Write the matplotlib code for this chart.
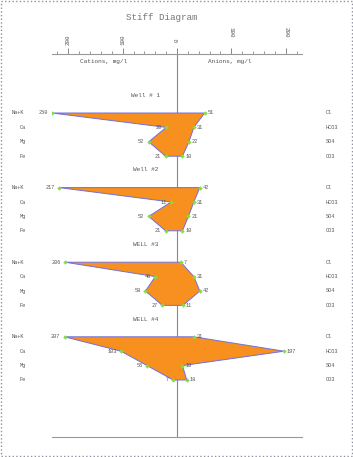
import numpy as np
import matplotlib
matplotlib.use("Agg")
import matplotlib.pyplot as plt
from matplotlib.patches import Rectangle

# ---------------- data ----------------
wells = ["Well # 1", "Well #2", "WELL #3", "WELL #4"]
cation_names = ["Na+K", "Ca", "Mg", "Fe"]
anion_names = ["Cl", "HCO3", "SO4", "CO3"]
cations = [
    [250, 20, 52, 21],
    [217, 11, 52, 21],
    [206, 40, 58, 27],
    [207, 103, 55, 7],
]
anions = [
    [51, 31, 22, 10],
    [42, 31, 21, 10],
    [7, 31, 42, 11],
    [31, 197, 10, 18],
]
left_ticks = [200, 100, 0]
right_ticks = [100, 200]

# ---------------- layout ----------------
W, H = 353, 457
dpi = 100
fig = plt.figure(figsize=(W / dpi, H / dpi), dpi=dpi)
FONT = "Liberation Mono"
TXT = "#555555"
SMALL = 3.8

x0, x1 = 52, 302        # pixel extent of scale
ytop, ybot = 53.5, 436.5
xlim = 230
ax = fig.add_axes([x0 / W, 1 - ybot / H, (x1 - x0) / W, (ybot - ytop) / H])
ax.set_xlim(-xlim, xlim)
ax.set_ylim(ybot, ytop)
for s in ["left", "right"]:
    ax.spines[s].set_visible(False)
for s in ["top", "bottom"]:
    ax.spines[s].set_color("#999999")
    ax.spines[s].set_linewidth(0.8)
ax.tick_params(axis="y", left=False, labelleft=False)
ax.tick_params(axis="x", bottom=False, labelbottom=False, top=True, labeltop=False,
               direction="out", color="#888888", which="both")
ax.set_xticks([-200, -100, 0, 100, 200])
ax.set_xticks(np.arange(-220, 221, 20), minor=True)
ax.tick_params(axis="x", which="major", length=4, width=0.7)
ax.tick_params(axis="x", which="minor", length=2, width=0.6)

# center line
ax.axvline(0, color="#888888", lw=0.8)

# tick labels
for v in left_ticks:
    ax.text(-v, 40, str(v), rotation=90, ha="center", va="center",
            fontsize=4.2, family=FONT, color=TXT, clip_on=False)
for v in right_ticks:
    ax.text(v, 32, str(v), rotation=270, ha="center", va="center",
            fontsize=4.2, family=FONT, color=TXT, clip_on=False)

ax.text(-135, 61.5, "Cations, mg/l", ha="center", va="center", fontsize=4.4,
        family=FONT, color=TXT, clip_on=False)
ax.text(97, 61.5, "Anions, mg/l", ha="center", va="center", fontsize=4.4,
        family=FONT, color=TXT, clip_on=False)

fig.text(162 / W, 1 - 17 / H, "Stiff Diagram", ha="center", va="center",
         fontsize=6.7, family=FONT, color="#777777")

px = (x1 - x0) / (2 * xlim)  # pixels per unit
lx_left = (12 - 177) / px
lx_left2 = (20 - 177) / px
lx_right = (326 - 177) / px

well_title_y0 = 95.3
row_y0 = 113
well_step = 74.6
row_step = 14.4

for w, name in enumerate(wells):
    ty = well_title_y0 + w * well_step
    ax.text(-58, ty, name, ha="center", va="center", fontsize=4.4,
            family=FONT, color=TXT)
    ys = [row_y0 + w * well_step + r * row_step for r in range(4)]
    cx = [-min(v, xlim) for v in cations[w]]
    axv = [min(v, xlim) for v in anions[w]]
    poly_x = cx + axv[::-1]
    poly_y = ys + ys[::-1]
    ax.fill(poly_x, poly_y, facecolor="#F7901E", edgecolor="#7070E0",
            lw=0.7, zorder=3)
    ax.plot(cx, ys, ls="none", marker="D", ms=1.9, mew=0.3, color="#80E040", zorder=4)
    ax.plot(axv, ys, ls="none", marker="D", ms=1.9, mew=0.3, color="#80E040", zorder=4)
    for r in range(4):
        ax.text(cx[r] - 4.5 / px, ys[r], str(cations[w][r]), ha="right",
                va="center", fontsize=SMALL, family=FONT, color=TXT, zorder=5)
        ax.text(axv[r] + 3 / px, ys[r], str(anions[w][r]), ha="left",
                va="center", fontsize=SMALL, family=FONT, color=TXT, zorder=5)
        ax.text(lx_left if r == 0 else lx_left2, ys[r], cation_names[r],
                ha="left", va="center", fontsize=SMALL, family=FONT, color=TXT,
                clip_on=False)
        ax.text(lx_right, ys[r], anion_names[r], ha="left", va="center",
                fontsize=SMALL, family=FONT, color=TXT, clip_on=False)

# dotted border
fig.patches.append(Rectangle((0.002, 0.002), 0.996, 0.996, transform=fig.transFigure,
                             fill=False, ls=":", lw=1, ec="#9090a0"))

fig.savefig("out.png", dpi=dpi)
